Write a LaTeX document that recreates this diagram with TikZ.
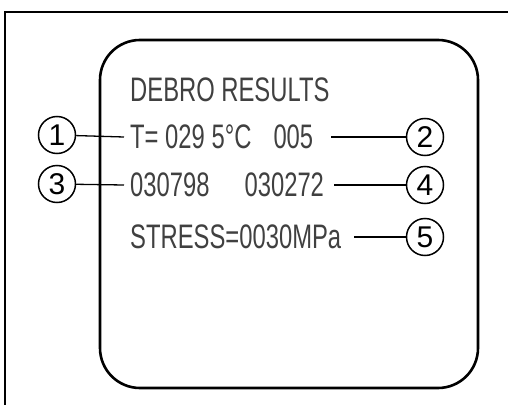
\documentclass[tikz,border=0pt]{standalone}
\usepackage{fontspec}
\setmainfont{Liberation Sans}
\newfontfamily\lcdfont[FakeStretch=0.7]{Liberation Sans}

\begin{document}
\begin{tikzpicture}[x=1pt,y=-1pt,
    readout/.style={anchor=west, inner sep=6pt, text=black!75,
        font=\lcdfont\fontsize{34}{34}\selectfont},
    callout/.style={draw, circle, minimum size=37pt, inner sep=0pt,
        line width=1.5pt, font=\fontsize{30}{30}\selectfont},
    leader/.style={line width=1.3pt}]
\useasboundingbox (0,0) rectangle (508,412);

    % Frame
\draw[line width=1.2pt] (508,12) -- (5,12) -- (5,405);

    % Display
\draw[line width=2.6pt, rounded corners=40pt] (100,40) rectangle (478,388);

    % Readout lines
\node[readout] (title) at (124,90) {DEBRO RESULTS};
\node[readout] (temp) at (124,137) {T= 029 5°C\hspace{22pt}005};
\node[readout] (dates) at (124,185) {030798\hspace{35pt}030272};
\node[readout] (stress) at (124,237) {STRESS=0030MPa};

    % Callouts
\node[callout] (c1) at (57,135) {1};
\node[callout] (c2) at (425,137) {2};
\node[callout] (c3) at (57,184) {3};
\node[callout] (c4) at (425,185) {4};
\node[callout] (c5) at (425,237) {5};

    % Leaders
\draw[leader] (c1) -- (temp.west);
\draw[leader] ([xshift=12pt]temp.east) -- (c2);
\draw[leader] (c3) -- (dates.west);
\draw[leader] ([xshift=4pt]dates.east) -- (c4);
\draw[leader] ([xshift=7pt]stress.east) -- (c5);

\end{tikzpicture}
\end{document}
